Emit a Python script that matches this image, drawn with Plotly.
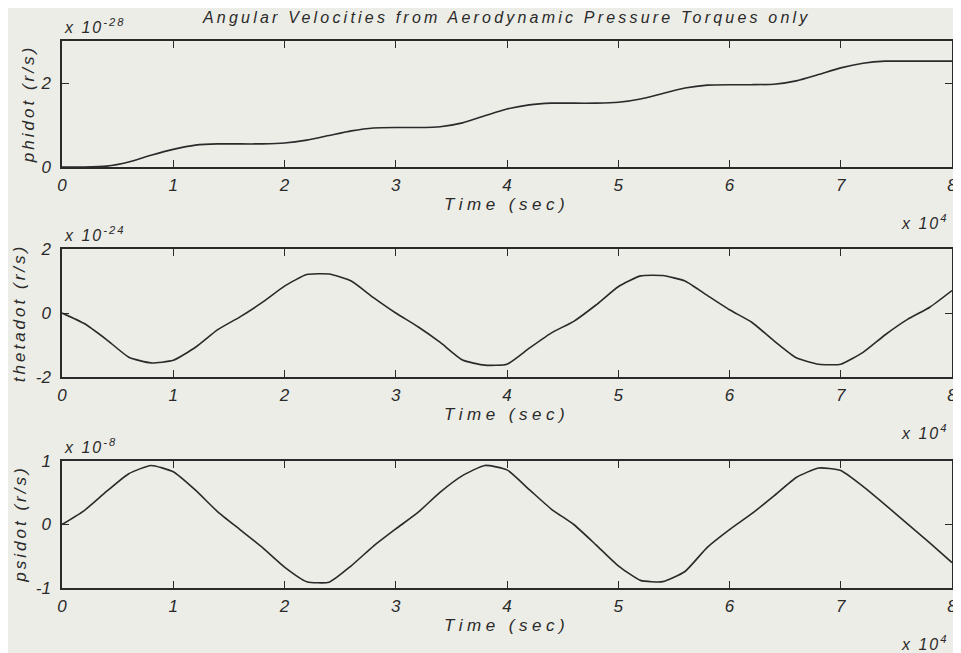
import plotly.graph_objects as go
from plotly.subplots import make_subplots

# time axis in units of 1e4 s
time = [0.0, 0.2, 0.4, 0.6, 0.8, 1.0, 1.2, 1.4, 1.6, 1.8, 2.0, 2.2, 2.4, 2.6, 2.8, 3.0,
        3.2, 3.4, 3.6, 3.8, 4.0, 4.2, 4.4, 4.6, 4.8, 5.0, 5.2, 5.4, 5.6, 5.8, 6.0,
        6.2, 6.4, 6.6, 6.8, 7.0, 7.2, 7.4, 7.6, 7.8, 8.0]

# phidot, x 1e-28 r/s
phidot = [0.0, 0.0, 0.02, 0.12, 0.28, 0.42, 0.52, 0.55, 0.55, 0.55, 0.57, 0.64, 0.75, 0.86, 0.93, 0.94,
          0.94, 0.96, 1.05, 1.22, 1.38, 1.48, 1.52, 1.52, 1.52, 1.54, 1.62, 1.75, 1.88, 1.95, 1.96,
          1.96, 1.97, 2.05, 2.2, 2.36, 2.47, 2.52, 2.52, 2.52, 2.52]

# thetadot, x 1e-24 r/s
thetadot = [0.0, -0.33, -0.83, -1.38, -1.56, -1.48, -1.07, -0.52, -0.12, 0.33, 0.84, 1.2, 1.22, 1.0, 0.48, 0.0,
            -0.43, -0.92, -1.47, -1.63, -1.6, -1.1, -0.62, -0.26, 0.25, 0.82, 1.16, 1.17, 1.0, 0.55, 0.1,
            -0.29, -0.87, -1.4, -1.6, -1.6, -1.23, -0.68, -0.2, 0.18, 0.7]

# psidot, x 1e-8 r/s
psidot = [0.0, 0.22, 0.52, 0.8, 0.93, 0.83, 0.54, 0.2, -0.08, -0.36, -0.67, -0.9, -0.91, -0.65, -0.34, -0.07,
          0.19, 0.51, 0.77, 0.93, 0.86, 0.55, 0.24, 0.0, -0.32, -0.65, -0.88, -0.9, -0.74, -0.36, -0.08,
          0.17, 0.45, 0.74, 0.89, 0.85, 0.6, 0.31, 0.01, -0.29, -0.6]

series = [phidot, thetadot, psidot]
ylabels = ["phidot (r/s)", "thetadot (r/s)", "psidot (r/s)"]
exponents = ["-28", "-24", "-8"]
yranges = [[0, 3], [-2, 2], [-1, 1]]
yticks = [[0, 2], [-2, 0, 2], [-1, 0, 1]]
xticks = [0, 1, 2, 3, 4, 5, 6, 7, 8]

bg = "#EDEDE7"
ink = "#2A2A2A"
font_family = "Liberation Sans, Arial, sans-serif"

# the page puts the figure 8px in from the top left corner
OFF = 8
W, H = 961, 653
ml, mr, mt, mb = 62 - OFF, 13, 41 - OFF, 653 - (588 - OFF)
pw, ph = W - ml - mr, H - mt - mb


def px(x, y):
    # screen pixel position -> paper coordinates
    return (x - OFF - ml) / pw, (H - mb - (y - OFF)) / ph


def spaced(text, gap):
    return '<span style="letter-spacing:%spx">%s</span>' % (gap, text)


def ifont(size):
    return dict(family=font_family, size=size, color=ink, style="italic")


fig = make_subplots(rows=3, cols=1)

domains = [(41, 167), (249, 377), (461, 588)]
ytitle_x = [28, 19, 20]
for i, (s, (top, bot)) in enumerate(zip(series, domains)):
    fig.add_trace(go.Scatter(x=time, y=s, mode="lines",
                             line=dict(color=ink, width=1.6, shape="spline", smoothing=0.5),
                             showlegend=False), row=i + 1, col=1)
    d0 = px(OFF, bot)[1]
    d1 = px(OFF, top)[1]
    axis_common = dict(showgrid=False, zeroline=False, showline=True, linecolor=ink, linewidth=1.5,
                       mirror="ticks", ticks="inside", ticklen=7, tickwidth=1.2, tickcolor=ink,
                       ticklabeloverflow="allow", tickfont=ifont(17))
    fig.update_xaxes(range=[0, 8], tickvals=xticks, ticktext=[str(t) for t in xticks],
                     ticklabelstandoff=2, **axis_common, row=i + 1, col=1)
    fig.update_yaxes(range=yranges[i], tickvals=yticks[i], ticktext=[str(t) for t in yticks[i]],
                     domain=[d0, d1], ticklabelstandoff=6, **axis_common, row=i + 1, col=1)

    # y axis title
    yx, yy = px(ytitle_x[i], (top + bot) / 2)
    fig.add_annotation(x=yx, y=yy, xref="paper", yref="paper", xanchor="center", yanchor="middle",
                       textangle=-90, showarrow=False, text=spaced(ylabels[i], 3), font=ifont(17))
    # x axis title
    tx, ty = px(508, bot + 37)
    fig.add_annotation(x=tx, y=ty, xref="paper", yref="paper", xanchor="center", yanchor="middle",
                       showarrow=False, text=spaced("Time (sec)", 4.5), font=ifont(17))
    # exponent labels
    ex, ey = px(62, top - 15)
    fig.add_annotation(x=ex, y=ey, xref="paper", yref="paper", xanchor="left", yanchor="middle", showarrow=False,
                       text=spaced("x 10<sup>%s</sup>" % exponents[i], 2), font=ifont(16))
    tx, ty = px(954, bot + 55)
    fig.add_annotation(x=tx, y=ty, xref="paper", yref="paper", xanchor="right", yanchor="middle", showarrow=False,
                       text=spaced("x 10<sup>4</sup>", 2), font=ifont(16))

title_x, title_y = px(508, 18)
fig.add_annotation(x=title_x, y=title_y, xref="paper", yref="paper", xanchor="center", yanchor="middle",
                   showarrow=False, text=spaced("Angular Velocities from Aerodynamic Pressure Torques only", 3.2),
                   font=ifont(16))

fig.update_layout(width=W, height=H, margin=dict(l=ml, r=mr, t=mt, b=mb),
                  plot_bgcolor=bg, paper_bgcolor=bg, font=dict(family=font_family, color=ink))

fig.write_html("out.html")
